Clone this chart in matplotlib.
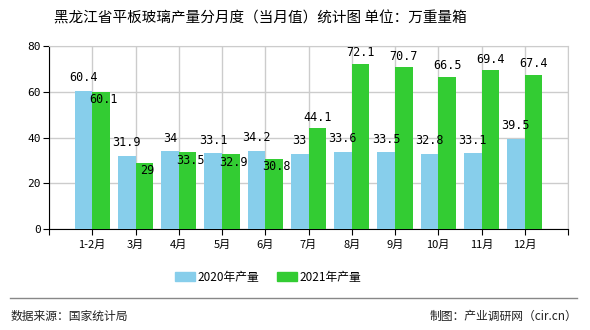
import matplotlib
matplotlib.use("Agg")
import matplotlib.pyplot as plt
import numpy as np
from matplotlib.patches import Rectangle

plt.rcParams['font.family'] = ['Noto Sans CJK SC', 'DejaVu Sans']

categories = ['1-2月', '3月', '4月', '5月', '6月', '7月', '8月', '9月', '10月', '11月', '12月']
v2020 = [60.4, 31.9, 34, 33.1, 34.2, 33, 33.6, 33.5, 32.8, 33.1, 39.5]
v2021 = [60.1, 29, 33.5, 32.9, 30.8, 44.1, 72.1, 70.7, 66.5, 69.4, 67.4]
lab2020 = ['60.4', '31.9', '34', '33.1', '34.2', '33', '33.6', '33.5', '32.8', '33.1', '39.5']
lab2021 = ['60.1', '29', '33.5', '32.9', '30.8', '44.1', '72.1', '70.7', '66.5', '69.4', '67.4']
inside2021 = [True, True, True, True, True, False, False, False, False, False, False]
series_names = ['2020年产量', '2021年产量']
c2020 = '#87CEEB'
c2021 = '#33CC33'

fig = plt.figure(figsize=(5.9, 3.3), dpi=100)
ax = fig.add_axes([49/590, 1-229/330, (568-49)/590, (229-46)/330])

x = np.arange(len(categories))
w = 0.41
ax.bar(x - w/2, v2020, width=w, color=c2020, zorder=3)
ax.bar(x + w/2, v2021, width=w, color=c2021, zorder=3)

ax.set_xlim(-1, len(categories))
ax.set_ylim(0, 80)
ax.set_yticks([0, 20, 40, 60, 80])
ax.set_xticks(np.arange(-1, len(categories)+1))
ax.set_xticklabels([''] + categories + [''])
ax.grid(True, color='#cccccc', linewidth=1, zorder=0)
for s in ['top', 'right']:
    ax.spines[s].set_color('#cccccc')
for s in ['left', 'bottom']:
    ax.spines[s].set_color('black')
ax.tick_params(axis='both', length=4, color='black', labelsize=8, pad=2)
ax.tick_params(axis='x', pad=4)
for t in ax.get_yticklabels():
    t.set_family(['DejaVu Sans Mono'])

lblfont = dict(family=['DejaVu Sans Mono'], fontsize=8.5, color='black', zorder=5)
for i in range(len(categories)):
    ax.annotate(lab2020[i], (x[i] - w/2, v2020[i]), xytext=(0, 9.5), textcoords='offset points',
                ha='center', va='center', **lblfont)
    off = -6 if inside2021[i] else 8
    ax.annotate(lab2021[i], (x[i] + w/2, v2021[i]), xytext=(2 if inside2021[i] else 0, off),
                textcoords='offset points', ha='center', va='center', **lblfont)

# legend
ly = 1 - 277/330
fig.patches.append(Rectangle((175/590, ly - 4/330), 20/590, 9/330, transform=fig.transFigure,
                             color=c2020, figure=fig))
fig.text(197/590, ly, series_names[0], fontsize=8.5, va='center', ha='left')
fig.patches.append(Rectangle((277/590, ly - 4/330), 20/590, 9/330, transform=fig.transFigure,
                             color=c2021, figure=fig))
fig.text(299/590, ly, series_names[1], fontsize=8.5, va='center', ha='left')

# title
fig.text(260/590, 1 - 18/330, '黑龙江省平板玻璃产量分月度（当月值）统计图 单位：万重量箱',
         fontsize=10.5, ha='center', va='center')

# footer
fig.add_artist(plt.Line2D([10/590, 577/590], [1 - 298/330, 1 - 298/330],
                          transform=fig.transFigure, color='#888888', linewidth=1))
fig.text(11/590, 1 - 316/330, '数据来源：国家统计局', fontsize=8.5, ha='left', va='center', color='#222222')
fig.text(577/590, 1 - 316/330, '制图：产业调研网（cir.cn）', fontsize=8.5, ha='right', va='center', color='#222222')

fig.savefig('out.png', dpi=100)
